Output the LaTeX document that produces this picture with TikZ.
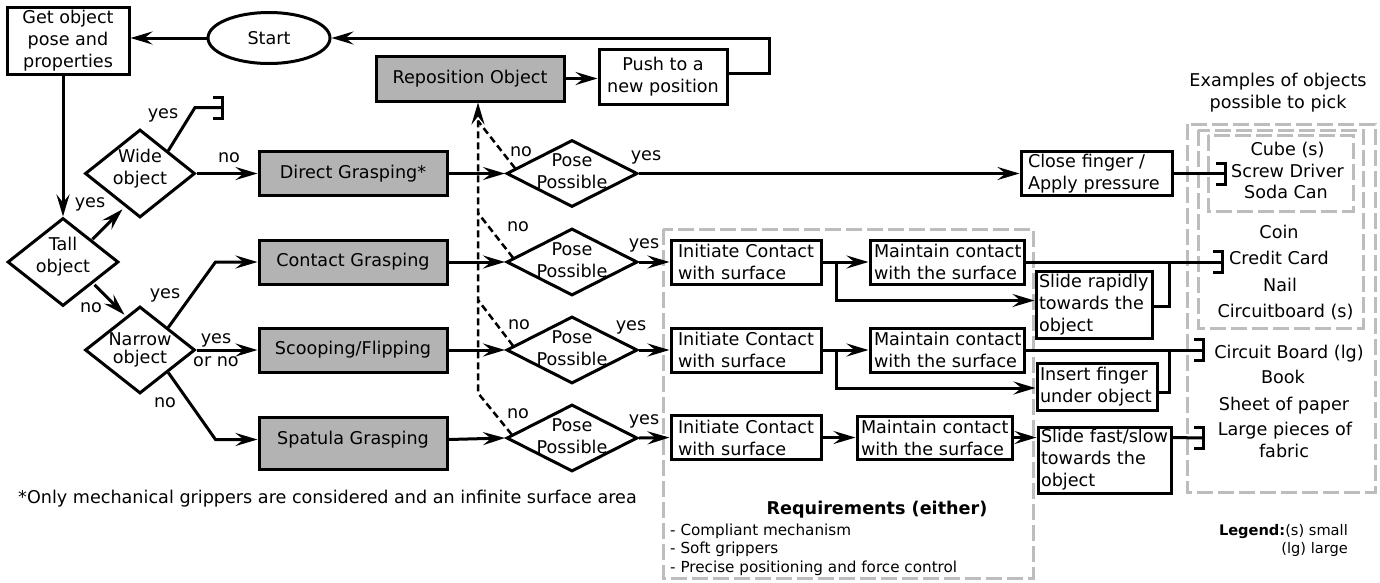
\documentclass[tikz,border=0pt]{standalone}
\usepackage{fontspec}
\setmainfont{DejaVu Sans}
\usetikzlibrary{arrows.meta,shapes.geometric,calc}
\definecolor{gdash}{HTML}{BDBDBD}
\definecolor{gfill}{HTML}{B3B3B3}
\tikzset{
  brk/.pic={\draw[line width=3pt] (-9,-10.5) -- (0,-10.5) -- (0,10.5) -- (-9,10.5);}
}
\begin{document}
\begin{tikzpicture}[x=1pt,y=-1pt,
  every node/.style={font=\fontsize{17.6}{22}\selectfont, inner sep=0pt},
  box/.style={draw, line width=3pt, fill=white, align=center},
  gbox/.style={box, fill=gfill},
  lbox/.style={draw, line width=3pt, fill=white, align=left, inner ysep=0pt},
  dia/.style={draw, diamond, line width=3pt, fill=white},
  tip/.style={-{Stealth[length=22pt,width=13pt,inset=8pt]}},
  arr/.style={line width=3pt, tip},
  ln/.style={line width=3pt},
  dsh/.style={line width=2.5pt, dash pattern=on 7pt off 4pt},
  gd/.style={draw=gdash, line width=3pt, dash pattern=on 16pt off 5pt},
  itm/.style={text height=12pt, text depth=4pt},
  sml/.style={font=\fontsize{15.2}{18.5}\selectfont},
  lgd/.style={font=\fontsize{14.6}{18}\selectfont},
]
\useasboundingbox (0,0) rectangle (1380,582);

% gray dashed frames
\draw[gd] (663,229) rectangle (1033,578);
\draw[gd] (1187,124) rectangle (1375,492);
\draw[gd] (1198,130) rectangle (1363,328);
\draw[gd] (1208,135) rectangle (1353,211);

% junctions of the dashed "no" connectors
\coordinate (dv4) at (478,393);
\coordinate (dv3) at (478,300);
\coordinate (dv2) at (478,213);
\coordinate (dv1) at (478,121);

% top nodes
\node[box, minimum width=122pt, minimum height=67pt] (getobj) at (68,40.5) {Get object\\pose and\\properties};
\node[draw, ellipse, line width=3pt, minimum width=122pt, minimum height=51pt] (start) at (269,38) {Start};
\node[gbox, minimum width=188pt, minimum height=45pt] (repo) at (470,78.5) {Reposition Object};
\node[box, minimum width=128pt, minimum height=55pt] (push) at (663,76.5) {Push to a\\new position};

% decision diamonds
\node[dia, minimum width=110pt, minimum height=88pt] (wide) at (140,173.5) {};
\node[align=center] (wideT) at ([yshift=5pt]wide.center) {Wide\\object};
\node[dia, minimum width=111pt, minimum height=88pt] (tall) at (63,262) {};
\node[align=center] (tallT) at ([yshift=5pt]tall.center) {Tall\\object};
\node[dia, minimum width=110pt, minimum height=87pt] (narrow) at (140,350) {};
\node[align=center, font=\fontsize{17.6}{18}\selectfont] (narrowT) at (narrow.center) {Narrow\\object};

\foreach \n/\y in {1/173.5,2/262,3/350,4/438}{
  \node[dia, minimum width=131pt, minimum height=67pt] (pose\n) at (572,\y) {};
  \node[align=center] (poseT\n) at ([yshift=2pt]pose\n.center) {Pose\\Possible};
}

% grasping boxes
\node[gbox, minimum width=188pt, minimum height=44pt] (direct) at (353,173.5) {Direct Grasping*};
\node[gbox, minimum width=188pt, minimum height=44pt] (contact) at (353,262) {Contact Grasping};
\node[gbox, minimum width=188pt, minimum height=44pt] (scoop) at (353,350) {Scooping/Flipping};
\node[gbox, minimum width=188pt, text height=27pt, text depth=25pt, anchor=north] (spat) at (353,416) {Spatula Grasping};

% action boxes
\node[lbox, text width=137pt, inner xsep=7pt, minimum height=44pt] (close) at (1096.5,173.5) {\mbox{Close finger /}\\\mbox{Apply pressure}};
\foreach \n/\y in {2/262,3/350,4/437.5}{
  \node[lbox, text width=136pt, inner xsep=7pt, minimum height=44pt] (init\n) at (746,\y) {\mbox{Initiate Contact}\\\mbox{with surface}};
}
\node[lbox, text width=146pt, inner xsep=4pt, minimum height=44pt] (maint2) at (947,262) {\mbox{Maintain contact}\\\mbox{with the surface}};
\node[lbox, text width=146pt, inner xsep=4pt, minimum height=44pt] (maint3) at (947,350) {\mbox{Maintain contact}\\\mbox{with the surface}};
\node[lbox, text width=147pt, inner xsep=4pt, minimum height=43pt] (maint4) at (934.5,437.5) {\mbox{Maintain contact}\\\mbox{with the surface}};
\node[lbox, text width=110pt, inner xsep=3pt, minimum height=67pt] (slide1) at (1094,304.5) {\mbox{Slide rapidly}\\\mbox{towards the}\\object};
\node[lbox, text width=114pt, inner xsep=3pt, minimum height=47pt] (insert) at (1097,386.5) {\mbox{Insert finger}\\\mbox{under object}};
\node[lbox, text width=127pt, inner xsep=3pt, minimum height=66pt] (slide2) at (1104.5,460) {\mbox{Slide fast/slow}\\\mbox{towards the}\\object};

% bracket and junction coordinates
\coordinate (b0) at (222,107.5);
\coordinate (b2) at (1222,262);
\coordinate (b3) at (1203,350);
\coordinate (b4) at (1203,438);
\coordinate (t2) at (1169,262);
\coordinate (t3) at (1169,350);
\coordinate (j2) at (836,262);
\coordinate (j3) at (836,350);

% connectors: top loop
\draw[arr] (start.west) -- (start.west -| getobj.east);
\draw[arr] ([yshift=3.5pt]push.east) -- ++(41,0) |- (start.east);
\draw[arr] (repo.east) -- (repo.east -| push.west);
\draw[arr] (tall.north |- getobj.south) -- (tall.north);

% left decisions
\draw[arr] ([xshift=1pt]tall.north east) -- ++(30,-30);
\draw[arr] ([xshift=3pt]tall.south east) -- ++(30,30);
\draw[ln] (wide.north east) -- (195,107.5) -- (b0);
\pic at (b0) {brk};
\draw[arr] (wide.east) -- (direct.west);
\draw[arr] (narrow.north east) -- ([xshift=-42pt]contact.west) -- (contact.west);
\draw[arr] (narrow.east) -- (scoop.west);
\draw[arr] (narrow.south east) -- ([xshift=-42pt,yshift=4pt]spat.west) -- ([yshift=4pt]spat.west);

% to pose diamonds
\draw[arr] (direct.east) -- (pose1.west);
\draw[arr] (contact.east) -- (pose2.west);
\draw[arr] (scoop.east) -- (pose3.west);
\draw[arr] ([yshift=4pt]spat.east) -- (pose4.west);

% dashed no-branches
\draw[dsh, tip] ($(pose4.west)!0.1!(pose4.north)$) -- (dv4) -- ([xshift=8pt]repo.south);
\draw[dsh] ($(pose3.west)!0.12!(pose3.north)$) -- (dv3);
\draw[dsh] ($(pose2.west)!0.12!(pose2.north)$) -- (dv2);
\draw[dsh] ($(pose1.west)!0.15!(pose1.north)$) -- (dv1);

% yes branches
\draw[arr] (pose1.east) -- (close.west);
\draw[ln] (close.east) -- (close.east -| 1225,0);
\pic at (close.east -| 1225,0) {brk};
\draw[arr] (pose2.east) -- (init2.west);
\draw[arr] (pose3.east) -- (init3.west);
\draw[arr] (pose4.east) -- (init4.west);

% row 2
\draw[arr] (init2.east) -- (maint2.west);
\draw[arr] (j2) |- ([yshift=4pt]slide1.west);
\draw[ln] ([yshift=-1.5pt]slide1.east) -| (t2);
\draw[ln] (maint2.east) -- (b2);
\pic at (b2) {brk};
% row 3
\draw[arr] (init3.east) -- (maint3.west);
\draw[arr] (j3) |- ([yshift=-1.5pt]insert.west);
\draw[ln] ([yshift=-5.5pt]insert.east) -| (t3);
\draw[ln] (maint3.east) -- (b3);
\pic at (b3) {brk};
% row 4
\draw[arr] (init4.east) -- (maint4.west);
\draw[arr] (maint4.east) -- (maint4.east -| slide2.west);
\draw[ln] (maint4.east -| slide2.east) -- (b4);
\pic at (b4) {brk};

% edge labels
\node (lyes0) at (90,204) {yes};
\node (lno0) at (91,308) {no};
\node (lyes1) at (163,115) {yes};
\node (lno1) at (229,158) {no};
\node (lyes2) at (165,295) {yes};
\node[align=center, font=\fontsize{17.6}{23}\selectfont] (lyn) at (216,350) {yes\\or no};
\node (lno2) at (165,403) {no};
\node (pn1) at (521,152) {no};
\node (pn2) at (518,227) {no};
\node (pn3) at (519,325) {no};
\node (pn4) at (518,414) {no};
\node (py1) at (646,157) {yes};
\node (py2) at (644,245) {yes};
\node (py3) at (631,327) {yes};
\node (py4) at (644,421) {yes};

% examples panel
\node[align=center] (ex) at (1278,93) {Examples of objects\\possible to pick};
\node[itm] (o1) at (1287.5,151) {Cube (s)};
\node[itm] (o2) at (1287.5,173) {Screw Driver};
\node[itm] (o3) at (1286,194) {Soda Can};
\node[itm] (o4) at (1279,234) {Coin};
\node[itm] (o5) at (1279,260) {Credit Card};
\node[itm] (o6) at (1280,287) {Nail};
\node[itm] (o7) at (1285.5,313) {Circuitboard (s)};
\node[itm] (o8) at (1289,354) {Circuit Board (lg)};
\node[itm] (o9) at (1283,379) {Book};
\node[itm] (o10) at (1284,406) {Sheet of paper};
\node[itm] (o11) at (1285,431) {Large pieces of};
\node[itm] (o12) at (1284,453) {fabric};

% requirements
\node[font=\fontsize{17.6}{20}\selectfont\bfseries] (req) at (877,510) {Requirements (either)};
\node[sml, anchor=base west] (r1) at (670,535) {- Compliant mechanism};
\node[sml, anchor=base west] (r2) at (670,553) {- Soft grippers};
\node[sml, anchor=base west] (r3) at (670,572) {- Precise positioning and force control};

% legend and footnote
\node[lgd, anchor=base east] (leg1) at (1348,535) {\textbf{Legend:}(s) small};
\node[lgd, anchor=base east] (leg2) at (1348,553) {(lg) large};
\node[anchor=base west] (fn) at (18,503) {*Only mechanical grippers are considered and an infinite surface area};
\end{tikzpicture}
\end{document}
